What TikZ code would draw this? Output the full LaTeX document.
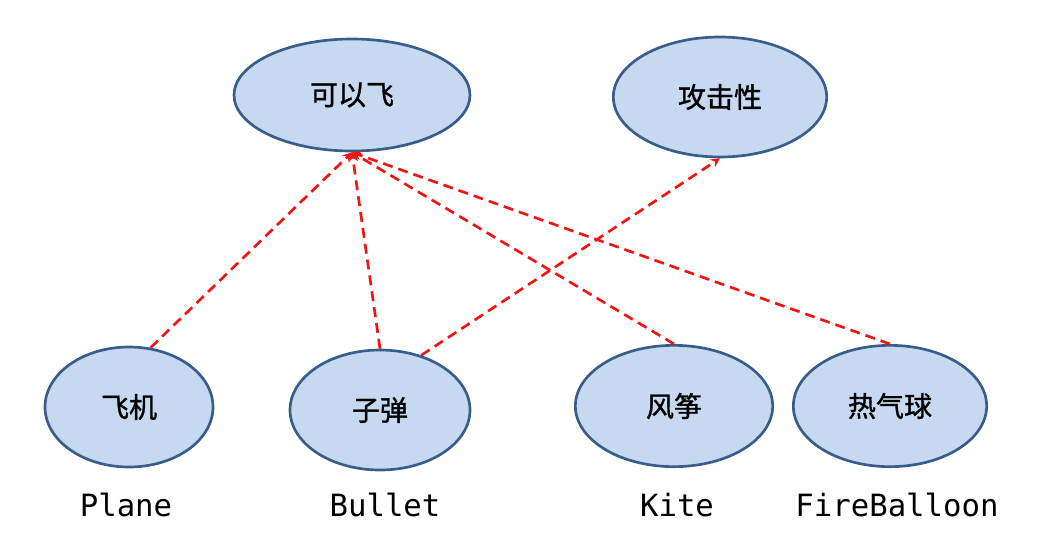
\documentclass[tikz,border=0pt]{standalone}
\usepackage{fontspec}
\newfontfamily\cjk[FakeBold=1.2]{Noto Sans CJK SC}
\setmonofont{DejaVu Sans Mono}
\usetikzlibrary{shapes.geometric}
\definecolor{clsfill}{RGB}{198,217,241}
\definecolor{clsdraw}{RGB}{56,93,138}
\definecolor{implred}{RGB}{240,20,20}
\tikzset{
	cls/.style={ellipse, draw=clsdraw, fill=clsfill, line width=2pt, inner sep=0pt, font=\cjk\fontsize{21}{25}\selectfont},
	lbl/.style={font=\ttfamily\fontsize{23}{27}\selectfont},
	impl/.style={-stealth, implred, line width=2pt, dash pattern=on 7.5pt off 4.5pt}
}
\begin{document}
\begin{tikzpicture}[x=0.75pt,y=-0.75pt]
				\useasboundingbox (0,0) rectangle (1044,554);
				% interfaces
				\node[cls, minimum width=177pt, minimum height=84pt] (fly) at (352,95) {可以飞};
				\node[cls, minimum width=160pt, minimum height=90pt] (atk) at (720,97) {攻击性};
				% classes
				\node[cls, minimum width=126pt, minimum height=90pt] (plane) at (129,407) {飞机};
				\node[cls, minimum width=135pt, minimum height=90pt] (bullet) at (380,410) {子弹};
				\node[cls, minimum width=148pt, minimum height=91pt] (kite) at (674,406) {风筝};
				\node[cls, minimum width=145pt, minimum height=91pt] (balloon) at (890,406) {热气球};
				% names
				\node[lbl] (planelbl) at (126,505) {Plane};
				\node[lbl] (bulletlbl) at (385,505) {Bullet};
				\node[lbl] (kitelbl) at (677,505) {Kite};
				\node[lbl] (balloonlbl) at (897,505) {FireBalloon};
				\path[impl]
				(plane.70) edge (fly.south)
				(bullet.north) edge (fly.south)
				(bullet.53) edge (atk.south)
				(kite.north) edge (fly.south)
				(balloon.north) edge (fly.south);
			\end{tikzpicture}
\end{document}
